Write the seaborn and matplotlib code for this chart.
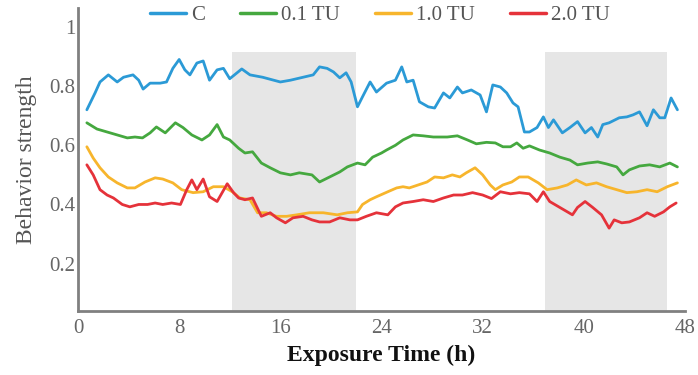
import matplotlib
matplotlib.use("Agg")
import matplotlib.pyplot as plt
import seaborn as sns
import pandas as pd

# ---- data ----
series_names = ["C", "0.1 TU", "1.0 TU", "2.0 TU"]
series_colors = ["#2b9ad6", "#45a83f", "#f7b52c", "#e5323a"]

t_c = [0.7,1.35,1.74,2.4,3.1,3.6,4.35,4.8,5.15,5.7,6.5,7.0,7.5,8.0,8.45,8.85,9.4,9.9,10.4,11.0,11.5,12.0,12.95,13.6,14.6,16.0,16.8,17.8,18.6,19.1,19.7,20.2,20.7,21.2,21.6,22.1,22.5,23.1,23.6,24.4,25.1,25.6,26.0,26.5,27.0,27.7,28.2,28.9,29.4,30.0,30.4,31.1,31.8,32.3,32.8,33.4,33.9,34.4,34.8,35.3,35.7,36.3,36.8,37.2,37.6,38.3,38.9,39.5,40.1,40.6,41.1,41.5,42.0,42.8,43.4,43.9,44.4,45.0,45.5,46.0,46.4,46.9,47.4]
v_c = [0.72,0.777,0.814,0.838,0.814,0.83,0.838,0.82,0.79,0.81,0.81,0.814,0.86,0.89,0.855,0.838,0.878,0.885,0.82,0.855,0.86,0.825,0.858,0.838,0.83,0.814,0.82,0.83,0.838,0.865,0.86,0.848,0.828,0.845,0.814,0.73,0.764,0.814,0.78,0.81,0.82,0.865,0.814,0.82,0.747,0.73,0.726,0.777,0.76,0.797,0.777,0.787,0.77,0.713,0.804,0.797,0.777,0.743,0.73,0.645,0.645,0.66,0.696,0.66,0.686,0.642,0.66,0.68,0.642,0.66,0.628,0.67,0.676,0.693,0.696,0.703,0.713,0.666,0.72,0.693,0.693,0.76,0.72]

t_01 = [0.7,1.5,2.3,3.1,3.9,4.5,5.1,5.7,6.2,6.9,7.7,8.3,9.0,9.8,10.4,11.0,11.5,12.0,12.7,13.2,13.8,14.5,15.2,16.0,16.8,17.5,18.5,19.1,19.9,20.7,21.3,22.1,22.7,23.3,24.0,24.4,25.1,25.7,26.5,27.3,28.1,29.2,30.0,30.8,31.5,32.3,33.0,33.6,34.2,34.7,35.2,35.7,36.5,37.3,38.1,38.9,39.5,40.3,41.1,41.8,42.6,43.1,43.6,44.4,45.2,46.0,46.8,47.4]
v_01 = [0.676,0.655,0.645,0.635,0.625,0.628,0.625,0.642,0.662,0.642,0.676,0.66,0.635,0.618,0.635,0.67,0.628,0.618,0.59,0.574,0.578,0.54,0.524,0.507,0.5,0.507,0.5,0.476,0.493,0.51,0.527,0.54,0.534,0.56,0.574,0.584,0.6,0.618,0.635,0.632,0.628,0.628,0.632,0.618,0.605,0.61,0.608,0.595,0.595,0.608,0.59,0.598,0.584,0.574,0.56,0.55,0.534,0.54,0.544,0.537,0.527,0.5,0.517,0.53,0.534,0.527,0.54,0.527]

t_10 = [0.7,1.2,1.74,2.4,3.1,3.9,4.5,5.3,6.1,6.7,7.5,8.2,9.1,9.9,10.7,11.5,12.2,12.8,13.6,14.2,14.9,15.7,16.5,17.3,18.3,19.4,20.5,21.3,22.1,22.5,23.1,23.6,24.5,25.2,25.7,26.2,26.9,27.6,28.2,28.9,29.6,30.2,30.7,31.4,32.0,32.6,33.0,33.6,34.3,34.9,35.6,36.4,37.1,37.9,38.7,39.4,40.2,41.0,41.8,42.6,43.4,44.2,45.0,45.8,46.6,47.4]
v_10 = [0.595,0.557,0.524,0.493,0.473,0.456,0.456,0.476,0.49,0.486,0.473,0.45,0.44,0.443,0.46,0.46,0.443,0.422,0.416,0.372,0.372,0.36,0.36,0.365,0.372,0.372,0.365,0.372,0.375,0.4,0.416,0.426,0.443,0.456,0.46,0.456,0.466,0.476,0.493,0.49,0.5,0.493,0.507,0.524,0.5,0.466,0.45,0.466,0.476,0.493,0.493,0.473,0.45,0.456,0.466,0.483,0.466,0.473,0.46,0.45,0.44,0.443,0.45,0.443,0.46,0.473]

t_20 = [0.7,1.2,1.74,2.3,2.8,3.5,4.1,4.8,5.5,6.1,6.7,7.4,8.1,8.6,9.0,9.4,9.9,10.4,11.0,11.8,12.3,12.7,13.2,13.8,14.5,15.2,15.7,16.4,17.0,17.8,18.5,19.1,19.9,20.7,21.5,22.1,22.8,23.6,24.5,25.1,25.7,26.5,27.3,28.1,28.9,29.7,30.4,31.2,32.0,32.7,33.4,34.2,34.9,35.7,36.3,36.8,37.3,38.1,39.1,39.5,40.1,40.7,41.4,42.0,42.4,43.0,43.6,44.4,45.0,45.6,46.3,46.8,47.3]
v_20 = [0.534,0.5,0.45,0.432,0.422,0.4,0.392,0.4,0.4,0.405,0.4,0.405,0.4,0.45,0.483,0.45,0.486,0.426,0.41,0.47,0.44,0.422,0.416,0.422,0.36,0.372,0.355,0.338,0.355,0.36,0.348,0.341,0.341,0.355,0.348,0.348,0.36,0.372,0.365,0.392,0.405,0.41,0.416,0.41,0.422,0.432,0.432,0.44,0.432,0.42,0.443,0.436,0.44,0.436,0.41,0.443,0.41,0.39,0.365,0.39,0.41,0.39,0.365,0.32,0.348,0.338,0.341,0.355,0.372,0.36,0.375,0.392,0.405]

shade_spans = [(12.2, 22.0), (36.9, 46.6)]
shade_top = 0.915
x_ticks = [0, 8, 16, 24, 32, 40, 48]
y_ticks = [0.2, 0.4, 0.6, 0.8, 1.0]
y_tick_labels = ["0.2", "0.4", "0.6", "0.8", "1"]

# ---- build long table ----
frames = []
for name, t, v in zip(series_names, [t_c, t_01, t_10, t_20], [v_c, v_01, v_10, v_20]):
    frames.append(pd.DataFrame({"time": t, "value": v, "group": name}))
df = pd.concat(frames, ignore_index=True)

sns.set_theme(style="white")
plt.rcParams["font.family"] = ["Liberation Serif", "DejaVu Serif"]

fig = plt.figure(figsize=(6.98, 3.75), dpi=100)
ax = fig.add_axes([78/698, 1 - 311/375, (685 - 78)/698, (311 - 8)/375])

y_lo, y_hi = 0.04, 1.064
for a, b in shade_spans:
    ax.fill_between([a, b], [y_lo, y_lo], [shade_top, shade_top],
                    color="#e6e6e6", lw=0, zorder=0)

sns.lineplot(data=df, x="time", y="value", hue="group", hue_order=series_names,
             palette=dict(zip(series_names, series_colors)), linewidth=2.0,
             ax=ax, legend=False, sort=False, estimator=None)

ax.set_xlim(0, 48)
ax.set_ylim(y_lo, y_hi)
ax.set_xticks(x_ticks)
ax.set_xticklabels([str(x) for x in x_ticks])
ax.set_yticks(y_ticks)
ax.set_yticklabels(y_tick_labels)
ax.tick_params(axis="both", length=0, labelsize=15, labelcolor="#666666")
ax.tick_params(axis="x", pad=6)
ax.tick_params(axis="y", pad=2)

for s in ["top", "right"]:
    ax.spines[s].set_visible(False)
for s in ["left", "bottom"]:
    ax.spines[s].set_color("#808080")
    ax.spines[s].set_linewidth(2.0)

ax.set_xlabel("Exposure Time (h)", fontsize=17, fontweight="bold", color="#111111", labelpad=5)
ax.set_ylabel("Behavior strength", fontsize=17, color="#555555", labelpad=9)

handles = [plt.Line2D([], [], color=c, lw=2.5) for c in series_colors]
fig.legend(handles, series_names, loc="center", bbox_to_anchor=(380/698, 1 - 15/375),
           ncol=4, frameon=False, fontsize=15, handlelength=1.7, handletextpad=0.25,
           columnspacing=1.7, labelcolor="#555555")

fig.savefig("out.png", dpi=100, facecolor="white")
